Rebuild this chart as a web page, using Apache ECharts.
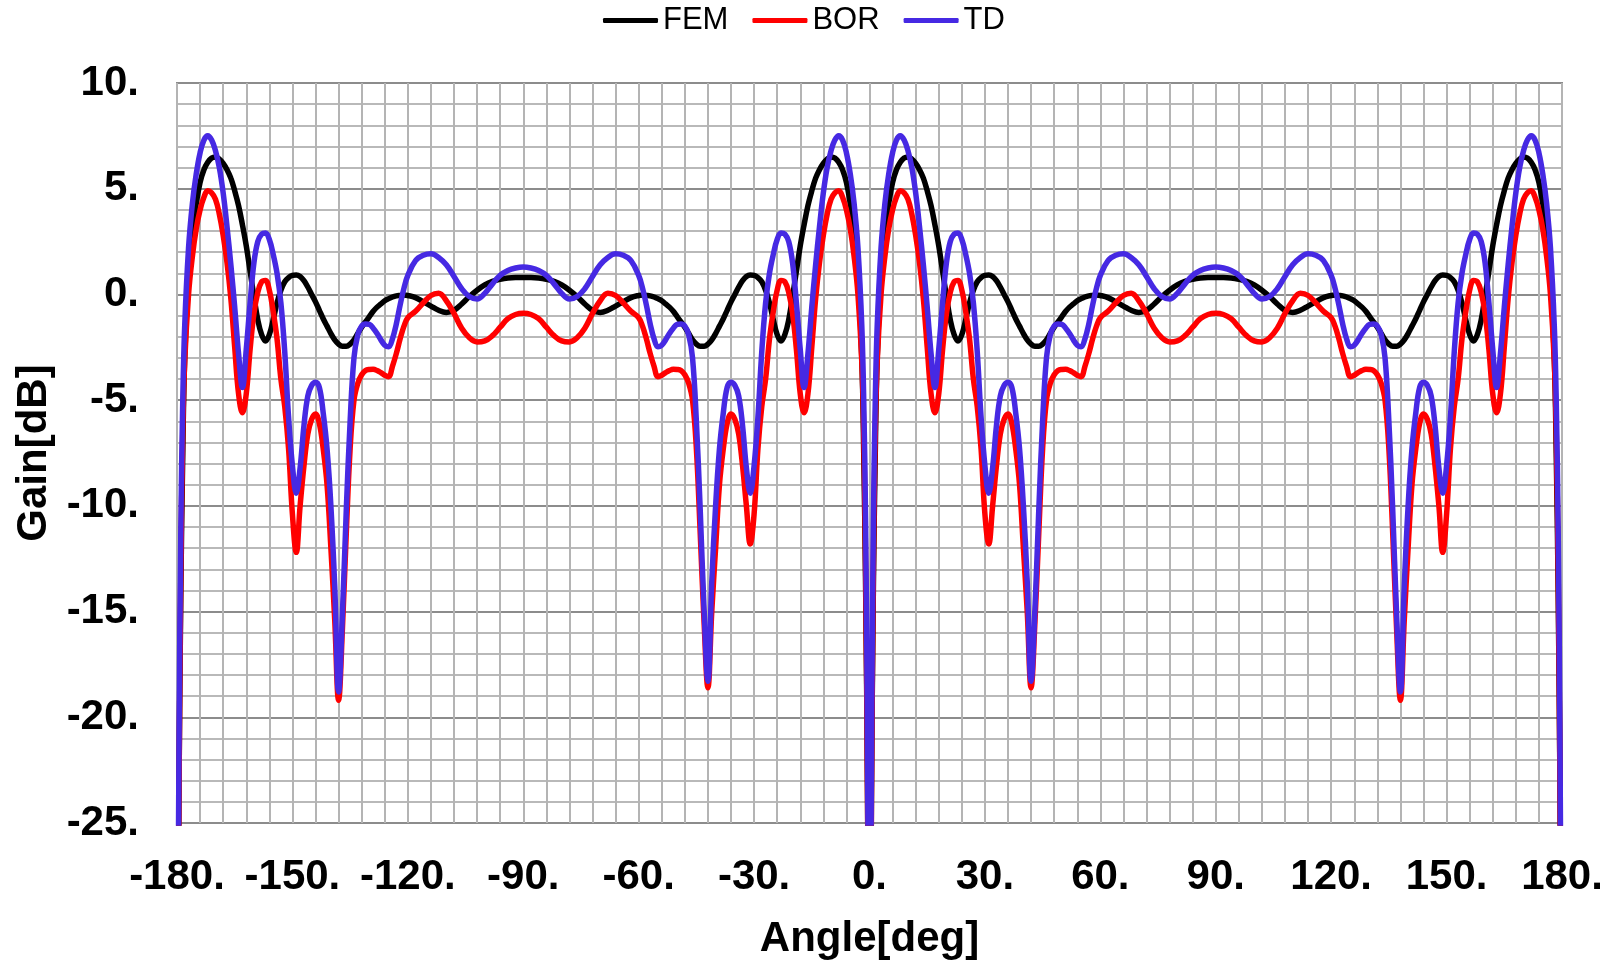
<!DOCTYPE html>
<html><head><meta charset="utf-8">
<script src="https://cdn.jsdelivr.net/npm/echarts/dist/echarts.min.js"></script>
<style>html,body{margin:0;padding:0;background:#fff}#c{width:1619px;height:965px}</style>
</head><body><div id="c"></div>
<script>
const angles = [
-180,-179.5,-179,-178.5,-178,-177,-176,-175,-174,-173,-172,-171,-170,-169,-168,-167,-166,-165,-164,-163,-162,-161,-160,-159,-158,-157,-156,-155,-154,-153,-152,-151,-150,-149,-148,-147,-146,-145,-144,-143,-142,-141,-140,-139,-138,-137,-136,-135,-134,-133,-132,-131,-130,-129,-128,-127,-126,-125,-124,-123,-122,-121,-120,-118,-116,-114,-112,-110,-108,-106,-104,-102,-100,-98,-96,-94,-92,-90,
-88,-86,-84,-82,-80,-78,-76,-74,-72,-70,-68,-66,-64,-62,-60,-59,-58,-57,-56,-55,-54,-53,-52,-51,-50,-49,-48,-47,-46,-45,-44,-43,-42,-41,-40,-39,-38,-37,-36,-35,-34,-33,-32,-31,-30,-29,-28,-27,-26,-25,-24,-23,-22,-21,-20,-19,-18,-17,-16,-15,-14,-13,-12,-11,-10,-9,-8,-7,-6,-5,-4,-3,-2,-1.5,-1,-0.5,0,
0.5,1,1.5,2,3,4,5,6,7,8,9,10,11,12,13,14,15,16,17,18,19,20,21,22,23,24,25,26,27,28,29,30,31,32,33,34,35,36,37,38,39,40,41,42,43,44,45,46,47,48,49,50,51,52,53,54,55,56,57,58,59,60,62,64,66,68,70,72,74,76,78,80,82,84,86,88,90,
92,94,96,98,100,102,104,106,108,110,112,114,116,118,120,121,122,123,124,125,126,127,128,129,130,131,132,133,134,135,136,137,138,139,140,141,142,143,144,145,146,147,148,149,150,151,152,153,154,155,156,157,158,159,160,161,162,163,164,165,166,167,168,169,170,171,172,173,174,175,176,177,178,178.5,179,179.5,180
];
const fem = [
-40,-24,-14,-7.5,-3,0.9,3,4.3,5.3,5.9,6.25,6.45,6.5,6.4,6.2,5.9,5.5,4.9,4.2,3.3,2.3,1.1,-0.1,-1.2,-1.9,-2.2,-1.9,-1.2,-0.4,0.2,0.6,0.8,0.9,0.92,0.85,0.65,0.35,0,-0.35,-0.75,-1.15,-1.5,-1.85,-2.15,-2.35,-2.45,-2.45,-2.35,-2.15,-1.85,-1.55,-1.3,-1.05,-0.8,-0.6,-0.45,-0.3,-0.2,-0.12,-0.07,-0.05,-0.03,-0.05,-0.15,-0.35,-0.55,-0.75,-0.85,-0.75,-0.45,-0.1,0.2,0.45,0.62,0.72,0.78,0.8,0.8,
0.8,0.78,0.72,0.62,0.45,0.2,-0.1,-0.45,-0.75,-0.85,-0.75,-0.55,-0.35,-0.15,-0.05,-0.03,-0.05,-0.07,-0.12,-0.2,-0.3,-0.45,-0.6,-0.8,-1.05,-1.3,-1.55,-1.85,-2.15,-2.35,-2.45,-2.45,-2.35,-2.15,-1.85,-1.5,-1.15,-0.75,-0.35,0,0.35,0.65,0.85,0.92,0.9,0.8,0.6,0.2,-0.4,-1.2,-1.9,-2.2,-1.9,-1.2,-0.1,1.1,2.3,3.3,4.2,4.9,5.5,5.9,6.2,6.4,6.5,6.45,6.25,5.9,5.3,4.3,3,0.9,-3,-7.5,-14,-24,-40,
-24,-14,-7.5,-3,0.9,3,4.3,5.3,5.9,6.25,6.45,6.5,6.4,6.2,5.9,5.5,4.9,4.2,3.3,2.3,1.1,-0.1,-1.2,-1.9,-2.2,-1.9,-1.2,-0.4,0.2,0.6,0.8,0.9,0.92,0.85,0.65,0.35,0,-0.35,-0.75,-1.15,-1.5,-1.85,-2.15,-2.35,-2.45,-2.45,-2.35,-2.15,-1.85,-1.55,-1.3,-1.05,-0.8,-0.6,-0.45,-0.3,-0.2,-0.12,-0.07,-0.05,-0.03,-0.05,-0.15,-0.35,-0.55,-0.75,-0.85,-0.75,-0.45,-0.1,0.2,0.45,0.62,0.72,0.78,0.8,0.8,
0.8,0.78,0.72,0.62,0.45,0.2,-0.1,-0.45,-0.75,-0.85,-0.75,-0.55,-0.35,-0.15,-0.05,-0.03,-0.05,-0.07,-0.12,-0.2,-0.3,-0.45,-0.6,-0.8,-1.05,-1.3,-1.55,-1.85,-2.15,-2.35,-2.45,-2.45,-2.35,-2.15,-1.85,-1.5,-1.15,-0.75,-0.35,0,0.35,0.65,0.85,0.92,0.9,0.8,0.6,0.2,-0.4,-1.2,-1.9,-2.2,-1.9,-1.2,-0.1,1.1,2.3,3.3,4.2,4.9,5.5,5.9,6.2,6.4,6.5,6.45,6.25,5.9,5.3,4.3,3,0.9,-3,-7.5,-14,-24,-40
];
const bor = [
-40,-24,-13,-6.5,-3.2,0,1.8,3.1,4,4.6,4.9,4.8,4.5,3.8,2.8,1.5,-0.2,-2.5,-4.7,-5.6,-4.7,-2.6,-0.9,0.1,0.6,0.66,0.2,-0.8,-2.1,-4,-5.3,-7.3,-10.4,-12.2,-10,-8.1,-6.6,-5.9,-5.65,-6.1,-7.3,-9,-12,-15.4,-19.2,-15.8,-11.3,-7.3,-5,-4.2,-3.8,-3.6,-3.55,-3.54,-3.6,-3.7,-3.82,-3.89,-3.4,-2.8,-2.1,-1.5,-1.1,-0.8,-0.4,-0.05,0.05,-0.3,-0.9,-1.6,-2.05,-2.25,-2.2,-1.95,-1.55,-1.15,-0.95,-0.89,
-0.95,-1.15,-1.55,-1.95,-2.2,-2.25,-2.05,-1.6,-0.9,-0.3,0.05,-0.05,-0.4,-0.8,-1.1,-1.5,-2.1,-2.8,-3.4,-3.89,-3.82,-3.7,-3.6,-3.54,-3.55,-3.6,-3.8,-4.2,-5,-7.3,-11.3,-15.5,-18.6,-15,-12,-9,-7.3,-6.1,-5.65,-5.9,-6.6,-8.1,-10,-11.8,-10.4,-7.3,-5.3,-4,-2.1,-0.8,0.2,0.66,0.6,0.1,-0.9,-2.6,-4.7,-5.6,-4.7,-2.5,-0.2,1.5,2.8,3.8,4.5,4.8,4.9,4.6,4,3.1,1.8,0,-3.2,-6.5,-13,-24,-40,
-24,-13,-6.5,-3.2,0,1.8,3.1,4,4.6,4.9,4.8,4.5,3.8,2.8,1.5,-0.2,-2.5,-4.7,-5.6,-4.7,-2.6,-0.9,0.1,0.6,0.66,0.2,-0.8,-2.1,-4,-5.3,-7.3,-10.4,-11.8,-10,-8.1,-6.6,-5.9,-5.65,-6.1,-7.3,-9,-12,-15,-18.6,-15.5,-11.3,-7.3,-5,-4.2,-3.8,-3.6,-3.55,-3.54,-3.6,-3.7,-3.82,-3.89,-3.4,-2.8,-2.1,-1.5,-1.1,-0.8,-0.4,-0.05,0.05,-0.3,-0.9,-1.6,-2.05,-2.25,-2.2,-1.95,-1.55,-1.15,-0.95,-0.89,
-0.95,-1.15,-1.55,-1.95,-2.2,-2.25,-2.05,-1.6,-0.9,-0.3,0.05,-0.05,-0.4,-0.8,-1.1,-1.5,-2.1,-2.8,-3.4,-3.89,-3.82,-3.7,-3.6,-3.54,-3.55,-3.6,-3.8,-4.2,-5,-7.3,-11.3,-15.8,-19.2,-15.4,-12,-9,-7.3,-6.1,-5.65,-5.9,-6.6,-8.1,-10,-12.2,-10.4,-7.3,-5.3,-4,-2.1,-0.8,0.2,0.66,0.6,0.1,-0.9,-2.6,-4.7,-5.6,-4.7,-2.5,-0.2,1.5,2.8,3.8,4.5,4.8,4.9,4.6,4,3.1,1.8,0,-3.2,-6.5,-13,-24,-40
];
const td = [
-40,-22,-11,-5,-1.5,2.2,4.3,5.7,6.7,7.3,7.5,7.3,6.8,6,4.8,3.2,1.4,-0.6,-2.8,-4.4,-2.6,-0.4,1.5,2.5,2.85,2.9,2.6,1.9,1,-0.4,-2.7,-5.8,-8.1,-9.4,-8.2,-6.2,-4.8,-4.3,-4.15,-4.4,-5.6,-7.3,-10,-13.8,-18.8,-15.1,-10.2,-6,-3,-1.9,-1.5,-1.4,-1.42,-1.6,-1.85,-2.15,-2.4,-2.48,-2.1,-1.4,-0.5,0.3,0.9,1.6,1.85,1.92,1.75,1.4,0.85,0.27,-0.1,-0.22,0.05,0.5,0.9,1.13,1.25,1.3,
1.25,1.13,0.9,0.5,0.05,-0.22,-0.1,0.27,0.85,1.4,1.75,1.92,1.85,1.6,0.9,0.3,-0.5,-1.4,-2.1,-2.48,-2.4,-2.15,-1.85,-1.6,-1.42,-1.4,-1.5,-1.9,-3,-6,-10.2,-14.9,-18.3,-13.6,-10,-7.3,-5.6,-4.4,-4.15,-4.3,-4.8,-6.2,-8.2,-9.4,-8.1,-5.8,-2.7,-0.4,1,1.9,2.6,2.9,2.85,2.5,1.5,-0.4,-2.6,-4.4,-2.8,-0.6,1.4,3.2,4.8,6,6.8,7.3,7.5,7.3,6.7,5.7,4.3,2.2,-1.5,-5,-11,-22,-40,
-22,-11,-5,-1.5,2.2,4.3,5.7,6.7,7.3,7.5,7.3,6.8,6,4.8,3.2,1.4,-0.6,-2.8,-4.4,-2.6,-0.4,1.5,2.5,2.85,2.9,2.6,1.9,1,-0.4,-2.7,-5.8,-8.1,-9.4,-8.2,-6.2,-4.8,-4.3,-4.15,-4.4,-5.6,-7.3,-10,-13.6,-18.3,-14.9,-10.2,-6,-3,-1.9,-1.5,-1.4,-1.42,-1.6,-1.85,-2.15,-2.4,-2.48,-2.1,-1.4,-0.5,0.3,0.9,1.6,1.85,1.92,1.75,1.4,0.85,0.27,-0.1,-0.22,0.05,0.5,0.9,1.13,1.25,1.3,
1.25,1.13,0.9,0.5,0.05,-0.22,-0.1,0.27,0.85,1.4,1.75,1.92,1.85,1.6,0.9,0.3,-0.5,-1.4,-2.1,-2.48,-2.4,-2.15,-1.85,-1.6,-1.42,-1.4,-1.5,-1.9,-3,-6,-10.2,-15.1,-18.8,-13.8,-10,-7.3,-5.6,-4.4,-4.15,-4.3,-4.8,-6.2,-8.2,-9.4,-8.1,-5.8,-2.7,-0.4,1,1.9,2.6,2.9,2.85,2.5,1.5,-0.4,-2.6,-4.4,-2.8,-0.6,1.4,3.2,4.8,6,6.8,7.3,7.5,7.3,6.7,5.7,4.3,2.2,-1.5,-5,-11,-22,-40
];
const seriesNames = ['FEM', 'BOR', 'TD'];
const seriesColors = ['#000000', '#ff0000', '#4629e3'];
const xTitle = 'Angle[deg]';
const yTitle = 'Gain[dB]';

const FONT = '"Liberation Sans", Arial, Helvetica, sans-serif';
const chart = echarts.init(document.getElementById('c'), null, {renderer: 'canvas'});
const lists = [fem, bor, td];
const tickText = {fontFamily: FONT, fontSize: 42, fontWeight: 'bold', color: '#000'};
chart.setOption({
  animation: false,
  backgroundColor: '#ffffff',
  legend: {
    data: seriesNames, left: 603, top: 5, padding: 0, itemWidth: 55, itemHeight: 5, itemGap: 24,
    icon: 'roundRect',
    textStyle: {fontFamily: FONT, fontSize: 31, color: '#000'}
  },
  grid: {left: 177, top: 83, right: 57, bottom: 138, show: true, borderColor: '#8a8a8a', borderWidth: 2, backgroundColor: '#fff'},
  xAxis: {
    type: 'value', min: -180, max: 180, interval: 30,
    name: xTitle, nameLocation: 'middle', nameGap: 95, nameTextStyle: tickText,
    axisLine: {show: false}, axisTick: {show: false},
    axisLabel: Object.assign({formatter: v => v + '.', margin: 33}, tickText),
    splitLine: {show: true, lineStyle: {color: '#b4b4b4', width: 2}},
    minorTick: {show: false, splitNumber: 5},
    minorSplitLine: {show: true, lineStyle: {color: '#b4b4b4', width: 2}}
  },
  yAxis: {
    type: 'value', min: -25, max: 10, interval: 5,
    name: yTitle, nameLocation: 'middle', nameGap: 121, nameRotate: 90, nameTextStyle: tickText,
    axisLine: {show: false}, axisTick: {show: false},
    axisLabel: Object.assign({formatter: v => v + '.', margin: 38}, tickText),
    splitLine: {show: true, lineStyle: {color: '#8c8c8c', width: 2}},
    minorTick: {show: false, splitNumber: 5},
    minorSplitLine: {show: true, lineStyle: {color: '#b9b9b9', width: 2}}
  },
  series: seriesNames.map((n, k) => ({
    name: n, type: 'line', symbol: 'none', showSymbol: false, smooth: 0.4,
    data: angles.map((a, i) => [a, lists[k][i]]),
    lineStyle: {color: seriesColors[k], width: 5.5},
    itemStyle: {color: seriesColors[k]},
    z: 2 + k
  }))
});
</script>
</body></html>
